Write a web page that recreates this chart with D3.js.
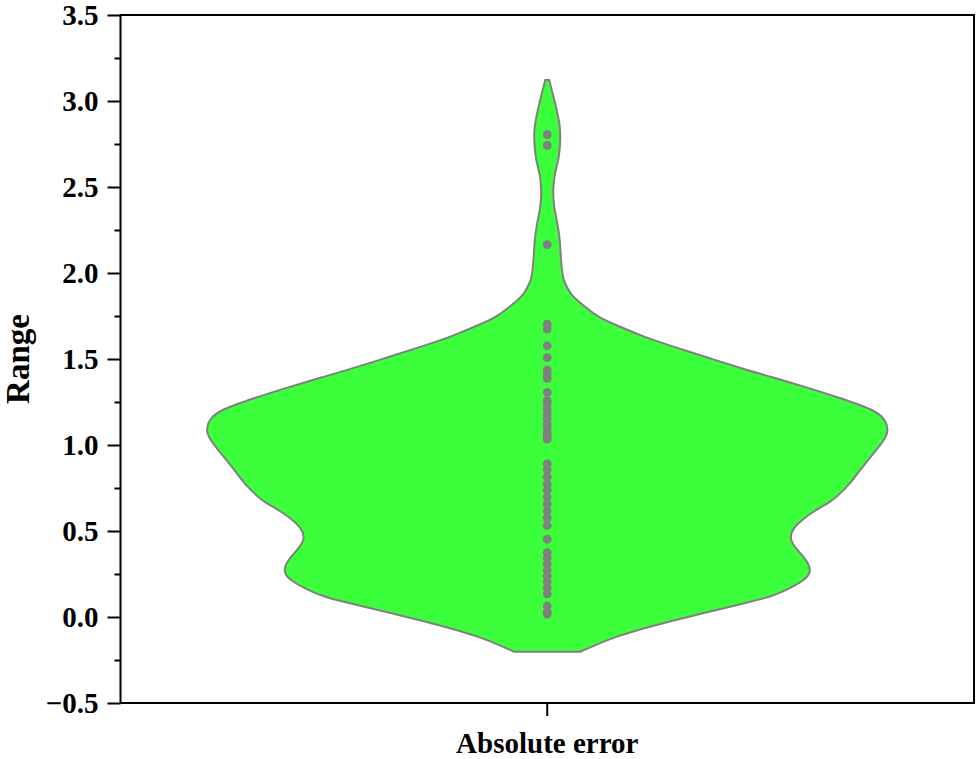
<!DOCTYPE html>
<html>
<head>
<meta charset="utf-8">
<script src="https://cdn.jsdelivr.net/npm/d3@7"></script>
<style>
    body { margin: 0; background: #fff; }
    svg text { font-family: "Liberation Serif", "Times New Roman", serif; font-weight: bold; fill: #000; }
</style>
</head>
<body>
<div id="chart"></div>
<script>
// Category on the x axis
const categories = ['Absolute error'];

// Violin outline: value level and relative density (max = 1)
const violinLevels = [
    -0.202, -0.163, -0.116, -0.076, -0.017, 0.023, 0.070, 0.118, 0.157, 0.215,
    0.256, 0.302, 0.351, 0.413, 0.467, 0.517, 0.564, 0.622, 0.663, 0.698,
    0.779, 0.837, 0.895, 0.953, 1.029, 1.087, 1.145, 1.203, 1.281, 1.320,
    1.397, 1.436, 1.513, 1.581, 1.630, 1.698, 1.746, 1.785, 1.843, 1.884,
    1.924, 1.959, 2.000, 2.076, 2.211, 2.327, 2.395, 2.463, 2.541, 2.599,
    2.669, 2.734, 2.802, 2.870, 2.936, 3.006, 3.064, 3.122
];
const violinDensity = [
    0.097, 0.140, 0.200, 0.264, 0.375, 0.460, 0.557, 0.657, 0.702, 0.754,
    0.771, 0.768, 0.751, 0.721, 0.710, 0.721, 0.745, 0.786, 0.825, 0.848,
    0.889, 0.909, 0.933, 0.956, 0.988, 1.000, 0.991, 0.962, 0.845, 0.785,
    0.655, 0.585, 0.462, 0.355, 0.282, 0.200, 0.147, 0.123, 0.085, 0.067,
    0.056, 0.048, 0.044, 0.040, 0.037, 0.026, 0.019, 0.017, 0.019, 0.025,
    0.034, 0.037, 0.039, 0.036, 0.029, 0.021, 0.013, 0.006
];

// Observations drawn as inner points
const errorValues = [
    0.017, 0.030, 0.064, 0.134, 0.169, 0.203, 0.238, 0.273, 0.308, 0.343,
    0.375, 0.452, 0.532, 0.576, 0.616, 0.657, 0.698, 0.738, 0.773, 0.814,
    0.855, 0.890, 1.034, 1.050, 1.070, 1.100, 1.120, 1.150, 1.180, 1.210,
    1.240, 1.258, 1.306, 1.388, 1.410, 1.436, 1.508, 1.577, 1.674, 1.703,
    2.165, 2.742, 2.804
];

// Tick values
const majorTicks = [-0.5, 0.0, 0.5, 1.0, 1.5, 2.0, 2.5, 3.0, 3.5];
const minorTicks = [-0.25, 0.25, 0.75, 1.25, 1.75, 2.25, 2.75, 3.25];

const W = 976, H = 759;
const margin = { top: 15, right: 2, bottom: 56, left: 120.5 },
    width = W - margin.left - margin.right,
    height = H - margin.top - margin.bottom;

const svg = d3.select('#chart')
    .append('svg')
    .attr('width', W)
    .attr('height', H)
    .append('g')
    .attr('transform', `translate(${margin.left}, ${margin.top})`);

const x = d3.scaleBand()
        .domain(categories)
        .range([0, width]),
    y = d3.scaleLinear()
        .domain([-0.5, 3.5])
        .range([height, 0]),
    w = d3.scaleLinear()
        .domain([0, d3.max(violinDensity)])
        .range([0, x.bandwidth() * 0.4]);

const cx = x(categories[0]) + x.bandwidth() / 2;
const profile = violinLevels.map((v, i) => ({ v: v, d: violinDensity[i] }));

// Violin body
const area = d3.area()
    .y(d => y(d.v))
    .x0(d => cx - w(d.d))
    .x1(d => cx + w(d.d))
    .curve(d3.curveBasis);

svg.append('path')
    .datum(profile)
    .attr('d', area)
    .style('fill', '#3aff3a')
    .style('stroke', '#808080')
    .style('stroke-width', 2);

// Inner points
svg.append('g')
    .selectAll('circle')
    .data(errorValues)
    .enter()
    .append('circle')
    .attr('cx', cx)
    .attr('cy', d => y(d))
    .attr('r', 4.4)
    .style('fill', '#808080');

// Axes
const yAxis = svg.append('g')
    .call(d3.axisLeft(y).tickValues(majorTicks).tickSize(13).tickPadding(9).tickFormat(d3.format('.1f')));
yAxis.selectAll('text').style('font-size', '29px');

svg.append('g')
    .call(d3.axisLeft(y).tickValues(minorTicks).tickSize(6).tickFormat(''))
    .select('.domain').remove();

const xAxis = svg.append('g')
    .attr('transform', `translate(0, ${height})`)
    .call(d3.axisBottom(x).tickSize(13).tickPadding(16));
xAxis.selectAll('text').style('font-size', '29px');

svg.selectAll('.tick line').style('stroke-width', 2);
svg.selectAll('.domain').remove();

// Frame
svg.append('rect')
    .attr('width', width)
    .attr('height', height)
    .style('fill', 'none')
    .style('stroke', '#000')
    .style('stroke-width', 2);

// Y label
svg.append('text')
    .attr('transform', `translate(${29 - margin.left}, ${height / 2}) rotate(-90)`)
    .attr('text-anchor', 'middle')
    .style('font-size', '33px')
    .text('Range');
</script>
</body>
</html>
